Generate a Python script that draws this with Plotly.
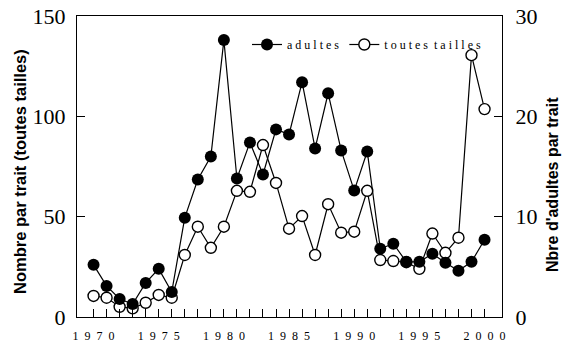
import plotly.graph_objects as go

years = list(range(1970, 2001))
adultes = [5.2, 3.1, 1.8, 1.3, 3.4, 4.8, 2.5, 9.9, 13.7, 16.0, 27.6, 13.8, 17.4, 14.2, 18.7,
           18.2, 23.4, 16.8, 22.3, 16.6, 12.6, 16.5, 6.8, 7.3, 5.5, 5.5, 6.3, 5.4, 4.6, 5.5, 7.7]
toutes_tailles = [10.5, 9.6, 5.1, 4.3, 7.1, 11.0, 9.6, 30.9, 45.0, 34.5, 45.0, 62.9, 62.4, 85.7, 66.8,
                  44.0, 50.3, 30.9, 56.2, 42.0, 42.5, 62.9, 28.4, 27.9, 27.3, 24.0, 41.6, 32.0, 39.5, 130.5, 103.6]
x_ticktext = ["\u2002".join(str(y)) if y % 5 == 0 else "" for y in years]
left_ticks = [0, 50, 100, 150]
left_ticktext = ["0", "50", "100", "150"]
right_ticks = [0, 10, 20, 30]
right_ticktext = ["0", "10", "20", "30"]

W, H = 564, 344
L, R, T, B = 77, 62, 16, 27
pw, ph = W - L - R, H - T - B

fig = go.Figure()
fig.add_trace(go.Scatter(
    x=years, y=toutes_tailles, name="t o u t e s  t a i l l e s", mode="lines+markers",
    line=dict(color="black", width=1.2),
    marker=dict(symbol="circle", size=11, color="white", line=dict(color="black", width=1.4)),
    yaxis="y"))
fig.add_trace(go.Scatter(
    x=years, y=adultes, name="a d u l t e s", mode="lines+markers",
    line=dict(color="black", width=1.2),
    marker=dict(symbol="circle", size=12, color="black"),
    yaxis="y2"))

serif = "Liberation Serif, Times New Roman, serif"
sans = "Liberation Sans, Arial, sans-serif"

fig.update_layout(
    width=W, height=H,
    margin=dict(l=L, r=R, t=T, b=B, pad=0, autoexpand=False),
    paper_bgcolor="white", plot_bgcolor="white",
    showlegend=True,
    legend=dict(orientation="h", x=(247 - L) / pw, y=(T + ph - 30) / ph, xanchor="left", yanchor="top",
                font=dict(family=serif, size=12, color="black"), bgcolor="rgba(0,0,0,0)",
                itemwidth=30, traceorder="reversed", tracegroupgap=0),
    xaxis=dict(range=[1968.73, 2001.34], tickmode="array", tickvals=years, ticktext=x_ticktext,
               ticks="inside", ticklen=8, tickwidth=1, tickcolor="black",
               showline=True, linecolor="black", linewidth=1.3, mirror=True,
               showgrid=False, zeroline=False, automargin=False,
               tickfont=dict(family=serif, size=12, color="black"), ticklabelstandoff=7),
    yaxis=dict(range=[0, 150], tickmode="array", tickvals=left_ticks, ticktext=left_ticktext,
               ticks="inside", ticklen=8, tickwidth=1, tickcolor="black",
               showline=True, linecolor="black", linewidth=1.3,
               showgrid=False, zeroline=False, automargin=False,
               tickfont=dict(family=serif, size=22, color="black"), ticklabelstandoff=6),
    yaxis2=dict(range=[0, 30], overlaying="y", side="right", tickmode="array",
                tickvals=right_ticks, ticktext=right_ticktext,
                ticks="inside", ticklen=8, tickwidth=1, tickcolor="black",
                showline=True, linecolor="black", linewidth=1.3,
                showgrid=False, zeroline=False, automargin=False,
                tickfont=dict(family=serif, size=22, color="black"), ticklabelstandoff=8),
    annotations=[
        dict(text="<b>Nombre par trait (toutes tailles)</b>", xref="paper", yref="paper",
             x=(20 - L) / pw, y=(T + ph - 172) / ph, textangle=-90, showarrow=False,
             font=dict(family=sans, size=16.5, color="black"), xanchor="center", yanchor="middle"),
        dict(text="<b>Nbre d'adultes par trait</b>", xref="paper", yref="paper",
             x=(552 - L) / pw, y=(T + ph - 185) / ph, textangle=-90, showarrow=False,
             font=dict(family=sans, size=16, color="black"), xanchor="center", yanchor="middle"),
    ],
)

fig.write_html("out.html", config={"displayModeBar": False},
               post_script="document.body.style.margin='0';document.body.style.padding='0';")
